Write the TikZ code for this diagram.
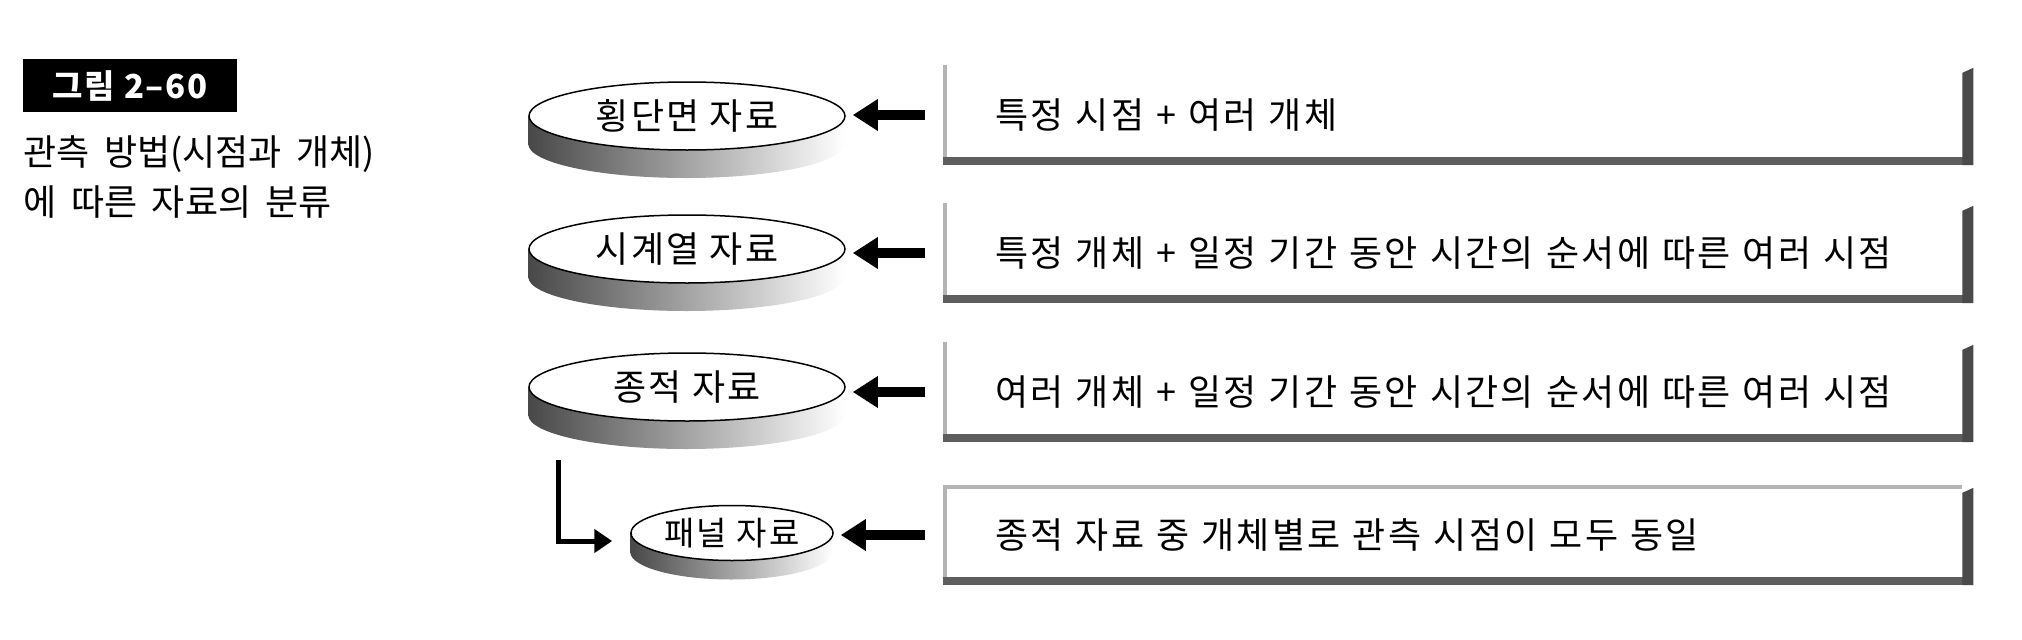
\documentclass[tikz,border=0pt]{standalone}
\usepackage{fontspec}
\usepackage{tikz}
\usetikzlibrary{shapes.geometric, arrows.meta, backgrounds}
\setmainfont{Noto Sans CJK KR}
\newfontfamily\boxfont{Noto Sans CJK KR}[WordSpace=3, LetterSpace=6.5]
\newfontfamily\diskfont{Noto Sans CJK KR}[LetterSpace=6]
\newfontfamily\capfont{Noto Sans CJK KR}[WordSpace=1.8]
\newfontfamily\titlefont{Noto Sans CJK KR}[LetterSpace=5]
\definecolor{edgecolor}{HTML}{B4B4B4}
\definecolor{basecolor}{HTML}{5E5E5E}
\definecolor{barcolor}{HTML}{4A4A4A}
\definecolor{shadecolor}{HTML}{484848}
\newcommand{\sortframe}[1]{%
  \fill[edgecolor] (#1.north west) rectangle ([xshift=4pt]#1.south west);
  \fill[basecolor] ([yshift=8pt]#1.south west) rectangle (#1.south east);
  \fill[barcolor] ([xshift=-11pt,yshift=-8pt]#1.north east) -- ([yshift=-3pt]#1.north east)
    -- (#1.south east) -- ([xshift=-11pt]#1.south east) -- cycle;
}
\newcommand{\diskside}[4]{%
  \shade[left color=shadecolor, middle color=shadecolor!55, right color=white]
    (#1.west) -- ++(0,#4) arc[start angle=180, end angle=360, x radius=#2pt, y radius=#3pt]
    -- (#1.east) -- cycle;
}

\begin{document}
\begin{tikzpicture}[x=1pt, y=-1pt,
    disk/.style={ellipse, draw, line width=1.5pt, fill=white, inner sep=0pt,
      font=\diskfont\fontsize{36}{42}\selectfont},
    sortbox/.style={rectangle, anchor=west, minimum width=1030pt, minimum height=100pt,
      inner xsep=52pt, text width=926pt, align=left, font=\boxfont\fontsize{36}{40}\selectfont},
    fatarrow/.style={line width=10pt, shorten <=18pt, shorten >=7pt,
      -{Triangle[length=25pt, width=30pt]}},
    elbow/.style={line width=5pt, -{Triangle[length=18pt, width=23pt]}},
  ]
  \useasboundingbox (0,0) rectangle (2022,640);

  % Title and caption
  \node[fill=black, text=white, minimum width=214pt, minimum height=53pt,
    font=\titlefont\bfseries\fontsize{33}{38}\selectfont] (fig) at (130,85.5) {그림 2–60};
  \node[anchor=west, align=left, font=\capfont\fontsize{36}{50}\selectfont] (cap) at (20,177)
    {관측 방법(시점과 개체)\\에 따른 자료의 분류};

  % Data types
  \node[disk, minimum width=316pt, minimum height=68pt] (cross) at (687,116) {횡단면 자료};
  \node[disk, minimum width=316pt, minimum height=68pt] (time) at (687,249) {시계열 자료};
  \node[disk, minimum width=316pt, minimum height=68pt] (long) at (687,387) {종적 자료};
  \node[disk, minimum width=202pt, minimum height=55pt,
    font=\diskfont\fontsize{33}{38}\selectfont] (panel) at (732,533) {패널 자료};

  % Disk sides
  \begin{pgfonlayer}{background}
    \diskside{cross}{158}{34}{28}
    \diskside{time}{158}{34}{28}
    \diskside{long}{158}{34}{28}
    \diskside{panel}{101}{27.5}{19}
  \end{pgfonlayer}

  % Definitions
  \node[sortbox] (crossbox) at (943,115) {특정 시점 + 여러 개체};
  \node[sortbox] (timebox) at (943,253) {특정 개체 + 일정 기간 동안 시간의 순서에 따른 여러 시점};
  \node[sortbox] (longbox) at (943,392) {여러 개체 + 일정 기간 동안 시간의 순서에 따른 여러 시점};
  \node[sortbox] (panelbox) at (943,535) {종적 자료 중 개체별로 관측 시점이 모두 동일};
  \sortframe{crossbox}
  \sortframe{timebox}
  \sortframe{longbox}
  \sortframe{panelbox}
  \fill[edgecolor] (panelbox.north west) rectangle ([yshift=-4pt,xshift=-11pt]panelbox.north east);

  % Arrows
  \draw[fatarrow] (crossbox.west) -- (crossbox.west -| cross.east);
  \draw[fatarrow] (timebox.west) -- (timebox.west -| time.east);
  \draw[fatarrow] (longbox.west) -- (longbox.west -| long.east);
  \draw[fatarrow] (panelbox.west) -- (panelbox.west -| panel.east);
  \coordinate (drop) at (558,460);
  \draw[elbow] (drop) |- ([xshift=-18pt,yshift=-8pt]panel.west);

\end{tikzpicture}
\end{document}
